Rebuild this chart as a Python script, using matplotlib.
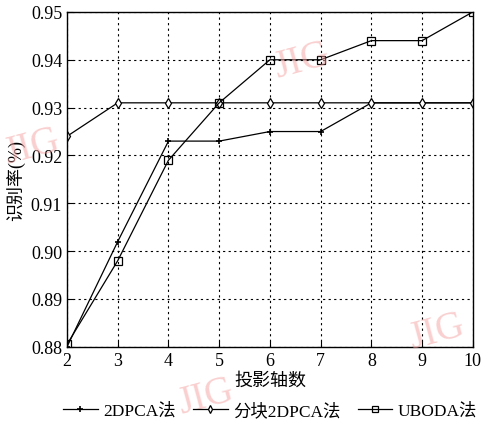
import matplotlib
matplotlib.use("Agg")
import matplotlib.pyplot as plt

x = [2, 3, 4, 5, 6, 7, 8, 9, 10]
pca2d = [0.880, 0.902, 0.923, 0.923, 0.925, 0.925, 0.931, 0.931, 0.931]
block_pca2d = [0.924, 0.931, 0.931, 0.931, 0.931, 0.931, 0.931, 0.931, 0.931]
uboda = [0.8805, 0.898, 0.919, 0.931, 0.940, 0.940, 0.944, 0.944, 0.950]
labels = ["2DPCA法", "分块2DPCA法", "UBODA法"]
yticks = [0.88, 0.89, 0.90, 0.91, 0.92, 0.93, 0.94, 0.95]

fam = ["Liberation Serif", "Noto Sans CJK SC"]
plt.rcParams["font.family"] = fam

fig = plt.figure(figsize=(4.82, 4.31), dpi=100)
ax = fig.add_axes([0.139, 0.193, 0.842, 0.777])

ax.plot(x, pca2d, color="black", lw=0.9, marker="+", ms=5, mew=1.2, label=labels[0])
ax.plot(x, block_pca2d, color="black", lw=0.9, marker="d", ms=5, mfc="white", mec="black", mew=0.9, label=labels[1])
ax.plot(x, uboda, color="black", lw=0.9, marker="s", ms=6, mfc="none", mec="black", mew=0.9, label=labels[2])

ax.set_xlim(2, 10)
ax.set_ylim(0.88, 0.95)
ax.set_xticks(x)
ax.set_yticks(yticks)
ax.set_yticklabels([f"{v:.2f}" for v in yticks])
ax.grid(True, color="black", linestyle=(0, (2, 3)), linewidth=0.8)
ax.tick_params(direction="in", labelsize=13, length=4)
for s in ax.spines.values():
    s.set_linewidth(1.0)

ax.set_xlabel("投影轴数", fontsize=13, labelpad=2)
ax.set_ylabel("识别率(%)", fontsize=13, labelpad=4)

fig.legend(loc="center", bbox_to_anchor=(0.56, 0.045), ncol=3, frameon=False,
           fontsize=12.5, handlelength=2.0, columnspacing=1.0, handletextpad=0.3,
           markerscale=0.8)

# watermark text
wm = dict(color="#f4a0a0", alpha=0.5, fontsize=28, family="Liberation Serif", zorder=0)
fig.text(0.0, 0.62, "JIG", rotation=15, **wm)
fig.text(0.56, 0.82, "JIG", rotation=15, **wm)
fig.text(0.84, 0.19, "JIG", rotation=15, **wm)
fig.text(0.36, 0.04, "JIG", rotation=15, **wm)

fig.savefig("out.png", dpi=100)
